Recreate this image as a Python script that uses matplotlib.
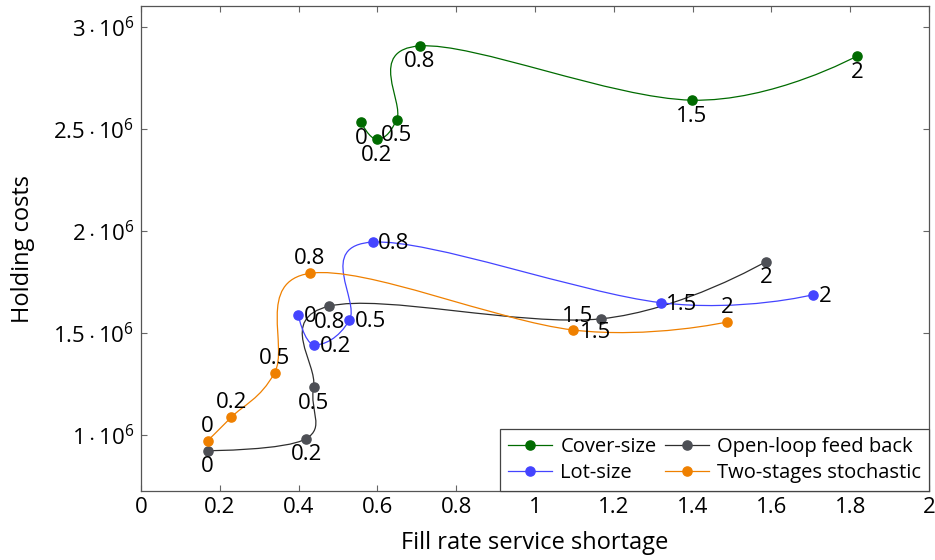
import numpy as np
import matplotlib
matplotlib.use('Agg')
import matplotlib.pyplot as plt
from matplotlib.path import Path
from matplotlib.patches import PathPatch
from matplotlib.lines import Line2D

plt.rcParams['font.family'] = ['Open Sans', 'DejaVu Sans']
plt.rcParams['mathtext.fontset'] = 'custom'
plt.rcParams['mathtext.rm'] = 'Open Sans'
plt.rcParams['mathtext.it'] = 'Open Sans:italic'
plt.rcParams['mathtext.bf'] = 'Open Sans:bold'

# parameter value shown next to each point
point_labels = ['0', '0.2', '0.5', '0.8', '1.5', '2']

cover_x = [0.558, 0.598, 0.649, 0.708, 1.398, 1.817]
cover_y = [2.533e6, 2.451e6, 2.547e6, 2.908e6, 2.642e6, 2.858e6]

open_x = [0.169, 0.419, 0.438, 0.478, 1.168, 1.586]
open_y = [0.923e6, 0.982e6, 1.234e6, 1.632e6, 1.570e6, 1.850e6]

lot_x = [0.399, 0.439, 0.529, 0.588, 1.319, 1.706]
lot_y = [1.588e6, 1.443e6, 1.564e6, 1.946e6, 1.649e6, 1.688e6]

two_x = [0.169, 0.229, 0.339, 0.429, 1.097, 1.487]
two_y = [0.972e6, 1.087e6, 1.305e6, 1.793e6, 1.515e6, 1.554e6]

x_ticks = [0, 0.2, 0.4, 0.6, 0.8, 1, 1.2, 1.4, 1.6, 1.8, 2]
y_ticks = [1e6, 1.5e6, 2e6, 2.5e6, 3e6]
y_tick_labels = ['1', '1.5', '2', '2.5', '3']

# where the labels sit relative to the point (offset in pt, ha, va)
place = {
    'below': ((0, -11.5), 'center', 'center'),
    'above': ((0, 10.5), 'center', 'center'),
    'right': ((4, -1), 'left', 'center'),
    'left': ((-6, 2), 'right', 'center'),
    'belowright': ((5, -2), 'left', 'center'),
}


def smooth_path(xs, ys, t=0.55 / 3):
    # tikz-like "smooth" curve through the points
    pts = np.column_stack([xs, ys])
    n = len(pts)
    verts = [pts[0]]
    codes = [Path.MOVETO]
    for i in range(n - 1):
        p0, p1 = pts[i], pts[i + 1]
        c1 = p0 if i == 0 else p0 + t * (pts[i + 1] - pts[i - 1])
        c2 = p1 if i == n - 2 else p1 - t * (pts[i + 2] - pts[i])
        verts += [c1, c2, p1]
        codes += [Path.CURVE4] * 3
    return Path(verts, codes)


fig = plt.figure(figsize=(9.35, 5.6), dpi=100)
ax = fig.add_axes([0.1508, 0.1232, 0.8428, 0.8658])

series = [
    ('Cover-size', cover_x, cover_y, '#006b00', '#006b00', ['below'] * 6),
    ('Open-loop feed back', open_x, open_y, '#2e2e2e', '#4d4f55',
     ['below', 'below', 'below', 'below', 'left', 'below']),
    ('Lot-size', lot_x, lot_y, '#4444ff', '#4444ff', ['right'] * 6),
    ('Two-stages stochastic', two_x, two_y, '#ef8000', '#ef8000',
     ['above', 'above', 'above', 'above', 'belowright', 'above']),
]

handles = {}
for name, xs, ys, lc, mc, where in series:
    ax.add_patch(PathPatch(smooth_path(xs, ys), facecolor='none', edgecolor=lc, lw=0.9))
    ax.plot(xs, ys, ls='none', marker='o', ms=6.6, color=mc)
    for x, y, lab, w in zip(xs, ys, point_labels, where):
        off, ha, va = place[w]
        ax.annotate(lab, (x, y), xytext=off, textcoords='offset points',
                    ha=ha, va=va, fontsize=16)
    handles[name] = Line2D([], [], color=lc, lw=0.9, marker='o', ms=6.6,
                           markerfacecolor=mc, markeredgecolor=mc)

ax.set_xlim(0, 2)
ax.set_ylim(0.7255e6, 3.103e6)
ax.set_xticks(x_ticks)
ax.set_xticklabels([f'{v:g}' for v in x_ticks])
ax.set_yticks(y_ticks)
ax.set_yticklabels([rf'${s}\cdot10^{{6}}$' for s in y_tick_labels])
ax.tick_params(direction='in', top=True, right=True, length=4.5, width=0.8,
               color='#666666', labelsize=16)
ax.tick_params(axis='x', pad=4)
ax.tick_params(axis='y', pad=5)
for s in ax.spines.values():
    s.set_color('#555555')
    s.set_linewidth(0.9)

ax.set_xlabel('Fill rate service shortage', fontsize=17, labelpad=10)
ax.set_ylabel('Holding costs', fontsize=17)
ax.yaxis.set_label_coords(-0.135, 0.5)

order = ['Cover-size', 'Lot-size', 'Open-loop feed back', 'Two-stages stochastic']
leg = ax.legend([handles[k] for k in order], order, loc='lower right', ncol=2,
                fontsize=14.5, frameon=True, fancybox=False, framealpha=1,
                borderaxespad=0, handlelength=2.2, handletextpad=0.4,
                columnspacing=0.4, labelspacing=0.3, borderpad=0.4)
leg.get_frame().set_edgecolor('#444444')
leg.get_frame().set_linewidth(0.9)

fig.savefig('out.png', dpi=100)
